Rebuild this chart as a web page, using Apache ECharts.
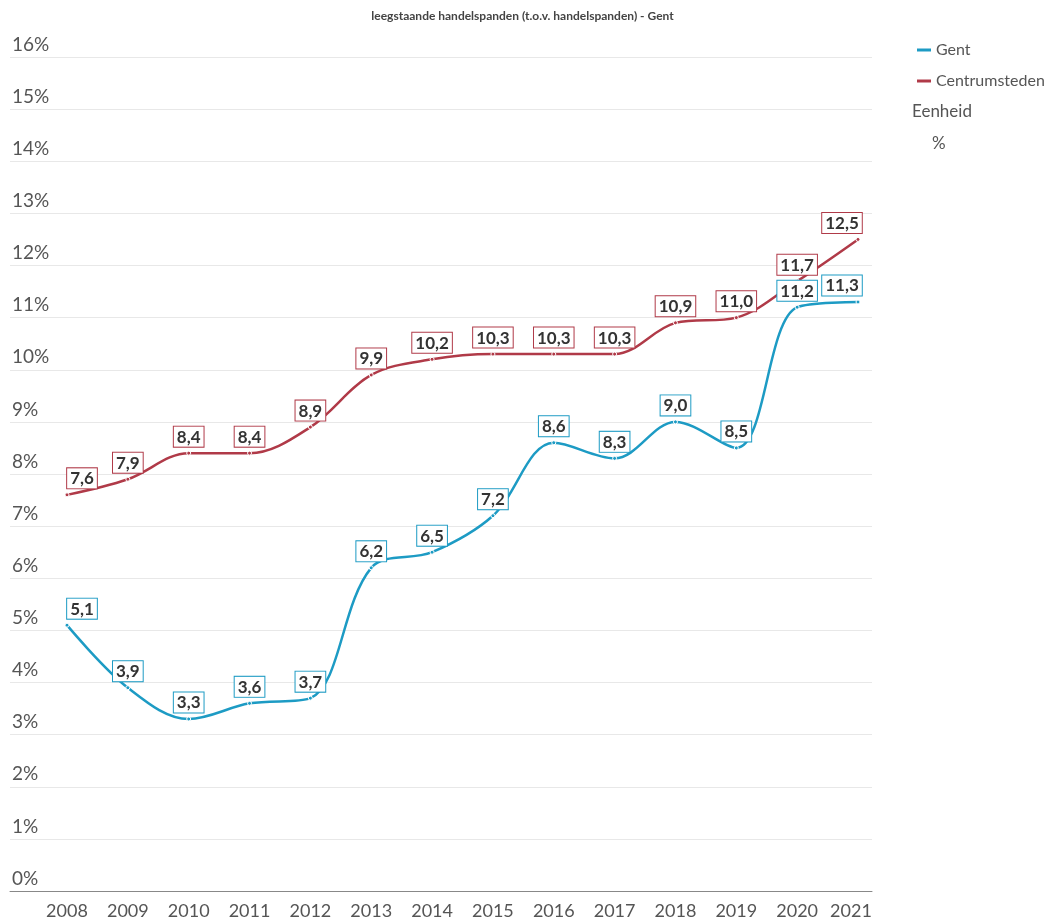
<!DOCTYPE html>
<html>
<head>
<meta charset="utf-8">
<script src="https://cdn.jsdelivr.net/npm/echarts@6/dist/echarts.min.js"></script>
<style>
  html, body { margin: 0; padding: 0; background: #fff; }
  #main { width: 1045px; height: 920px; }
</style>
</head>
<body>
<div id="main"></div>
<script>
var years = ['2008', '2009', '2010', '2011', '2012', '2013', '2014', '2015', '2016', '2017', '2018', '2019', '2020', '2021'];
var gent = [5.1, 3.9, 3.3, 3.6, 3.7, 6.2, 6.5, 7.2, 8.6, 8.3, 9.0, 8.5, 11.2, 11.3];
var centrumsteden = [7.6, 7.9, 8.4, 8.4, 8.9, 9.9, 10.2, 10.3, 10.3, 10.3, 10.9, 11.0, 11.7, 12.5];

var fontFam = 'Lato, sans-serif';
var gentColor = '#1d9bc4';
var centrColor = '#b03a48';

// labels at the ends are pushed inside the plot like in the original
function withOffsets(vals) {
    return vals.map(function (v, i) {
        var d = { value: v };
        if (i === 0) d.label = { offset: [15, 0] };
        if (i === vals.length - 1) d.label = { offset: [-16, 0] };
        return d;
    });
}

function mkSeries(name, vals, color) {
    return {
        name: name,
        type: 'line',
        xAxisIndex: 1,
        yAxisIndex: 1,
        smooth: 0.35,
        data: withOffsets(vals),
        symbol: 'circle',
        symbolSize: 4,
        itemStyle: { color: color, borderColor: '#fff', borderWidth: 1 },
        lineStyle: { color: color, width: 2.5 },
        label: {
            show: true,
            position: 'top',
            distance: 4,
            formatter: function (p) { return p.value.toFixed(1).replace('.', ','); },
            fontFamily: fontFam,
            fontWeight: 'bold',
            fontSize: 17,
            color: '#333',
            backgroundColor: '#fff',
            borderColor: color,
            borderWidth: 1,
            padding: [2, 3, 1, 3]
        }
    };
}

var myChart = echarts.init(document.getElementById('main'));
var option = {
    animation: false,
    title: {
        text: 'leegstaande handelspanden (t.o.v. handelspanden) - Gent',
        left: 'center',
        top: 5,
        textStyle: { fontFamily: fontFam, fontSize: 12, fontWeight: 'bold', color: '#444' }
    },
    legend: {
        orient: 'vertical',
        left: 912,
        top: 37,
        itemGap: 15,
        itemWidth: 14,
        itemHeight: 3,
        icon: 'rect',
        itemStyle: { borderWidth: 0 },
        data: ['Gent', 'Centrumsteden'],
        textStyle: { fontFamily: fontFam, fontSize: 16, color: '#555' }
    },
    graphic: [
        { type: 'text', left: 912, top: 103, style: { text: 'Eenheid', fontFamily: fontFam, fontSize: 17, fill: '#555' } },
        { type: 'text', left: 932, top: 135, style: { text: '%', fontFamily: fontFam, fontSize: 17, fill: '#555' } }
    ],
    grid: [
        { left: 10, right: 173, top: 57, bottom: 29 },
        { left: 67, right: 187, top: 57, bottom: 29 }
    ],
    xAxis: [{
        gridIndex: 0,
        type: 'value',
        min: 0,
        max: 1,
        splitLine: { show: false },
        axisTick: { show: false },
        axisLabel: { show: false },
        axisLine: { show: true, lineStyle: { color: '#888', width: 1 } }
    }, {
        gridIndex: 1,
        type: 'category',
        data: years,
        boundaryGap: false,
        axisLine: { show: false },
        axisTick: { show: false },
        axisLabel: {
            margin: 11,
            interval: 0,
            fontFamily: fontFam,
            fontSize: 18,
            color: '#555',
            formatter: function (v) { return v === '2021' ? '{last|' + v + '}' : v; },
            rich: { last: { fontFamily: fontFam, fontSize: 18, color: '#555', padding: [0, 14, 0, 0] } }
        }
    }],
    yAxis: [{
        gridIndex: 0,
        type: 'value',
        min: 0,
        max: 16,
        interval: 1,
        axisLine: { show: false },
        axisTick: { show: false },
        splitLine: { lineStyle: { color: '#e8e8e8', width: 1 } },
        axisLabel: {
            inside: true,
            margin: 2,
            align: 'left',
            verticalAlign: 'bottom',
            padding: [0, 0, 3, 0],
            fontFamily: fontFam,
            fontSize: 19,
            color: '#555',
            formatter: '{value}%'
        }
    }, {
        gridIndex: 1,
        type: 'value',
        min: 0,
        max: 16,
        show: false
    }],
    series: [
        mkSeries('Gent', gent, gentColor),
        mkSeries('Centrumsteden', centrumsteden, centrColor)
    ]
};
myChart.setOption(option);
</script>
</body>
</html>
